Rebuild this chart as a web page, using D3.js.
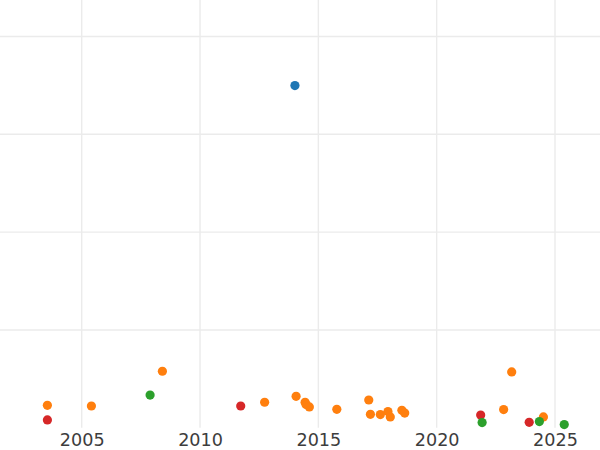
<!DOCTYPE html>
<html>
<head>
<meta charset="utf-8">
<script src="https://cdn.jsdelivr.net/npm/d3@7"></script>
<style>
  body { margin: 0; background: #fff; }
  .chart text { font-family: "DejaVu Sans", sans-serif; }
</style>
</head>
<body>
<div class="chart"></div>
<script>
const w = 600;
const h = 450;
const plotBottom = 427.8;

// data (year, value, group)
const years = [2003.55, 2003.55, 2005.41, 2007.89, 2008.41, 2011.72, 2012.73, 2014.01, 2014.06, 2014.44,
  2014.48, 2014.62, 2015.78, 2017.13, 2017.20, 2017.62, 2017.94, 2018.04, 2018.53, 2018.65,
  2021.86, 2021.92, 2022.83, 2023.17, 2023.91, 2024.51, 2024.34, 2025.39];
const values = [23.0, 8.0, 22.3, 33.5, 57.8, 22.3, 26.1, 349.8, 32.2, 26.1,
  23.7, 21.3, 18.9, 28.4, 13.8, 13.5, 16.6, 11.1, 17.9, 15.1,
  13.1, 5.3, 18.6, 57.1, 5.6, 11.1, 6.4, 3.3];
const groups = ["b", "d", "b", "c", "b", "d", "b", "a", "b", "b",
  "b", "b", "b", "b", "b", "b", "b", "b", "b", "b",
  "d", "c", "b", "b", "d", "b", "c", "c"];
const groupNames = ["a", "b", "c", "d"];
const groupColors = ["#1f77b4", "#ff7f0e", "#2ca02c", "#d62728"];
const xTicks = [2005, 2010, 2015, 2020, 2025];
const yTicks = [0, 100, 200, 300, 400];

const points = years.map((y, i) => ({ year: y, value: values[i], group: groups[i] }));

const svg = d3.select(".chart")
    .append("svg")
    .attr("width", w)
    .attr("height", h)

const x = d3.scaleLinear()
    .domain([2005, 2025])
    .range([81.7, 555]);

const y = d3.scaleLinear()
    .domain([0, 100])
    .range([plotBottom, plotBottom - 97.83]);

const color = d3.scaleOrdinal(groupNames, groupColors);

// grid
svg.append("g")
    .selectAll("line")
    .data(yTicks.slice(1))
    .enter()
    .append("line")
    .attr("x1", 0)
    .attr("x2", w)
    .attr("y1", (d) => y(d))
    .attr("y2", (d) => y(d))
    .attr("stroke", "#ebebeb")
    .attr("stroke-width", 1.4)

svg.append("g")
    .selectAll("line")
    .data(xTicks)
    .enter()
    .append("line")
    .attr("x1", (d) => x(d))
    .attr("x2", (d) => x(d))
    .attr("y1", 0)
    .attr("y2", plotBottom)
    .attr("stroke", "#ebebeb")
    .attr("stroke-width", 1.4)

// x axis labels
const xAxis = svg.append("g")
    .attr("transform", `translate(0, ${plotBottom})`)
    .call(d3.axisBottom(x).tickValues(xTicks).tickFormat(d3.format("d")).tickSize(0).tickPadding(6))

xAxis.select(".domain").remove()
xAxis.selectAll("text")
    .attr("fill", "#3d3d3d")
    .style("font-size", "17.6px")
    .style("font-family", "DejaVu Sans, sans-serif")

// points
svg.append("g")
    .selectAll("circle")
    .data(points)
    .enter()
    .append("circle")
    .attr("cx", (d) => x(d.year))
    .attr("cy", (d) => y(d.value))
    .attr("r", 4.6)
    .attr("fill", (d) => color(d.group))
</script>
</body>
</html>
